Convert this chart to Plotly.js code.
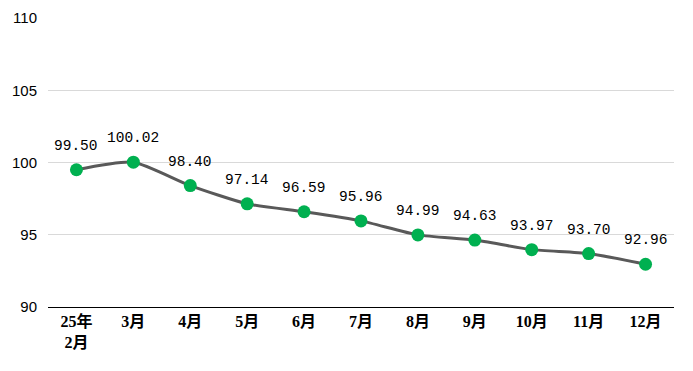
<!DOCTYPE html>
<html><head><meta charset="utf-8">
<script src="https://cdn.plot.ly/plotly-3.0.1.min.js"></script>
<style>body{margin:0;padding:0;background:#fff}#c{width:693px;height:371px}</style>
</head><body><div id="c"></div>
<script>
var categories = ["25年<br>2月","3月","4月","5月","6月","7月","8月","9月","10月","11月","12月"];
var values = [99.50,100.02,98.40,97.14,96.59,95.96,94.99,94.63,93.97,93.70,92.96];
var yTicks = [90,95,100,105,110];

var annotations = categories.map(function(c,i){
  return {x:c, y:values[i], xref:'x', yref:'y', text:values[i].toFixed(2), showarrow:false,
    yanchor:'middle', xanchor:'center', yshift:24,
    font:{family:'Liberation Mono, monospace', size:14.5, color:'#000'}};
});

var trace = {
  x: categories, y: values, type:'scatter', mode:'lines+markers',
  line:{color:'#595959', width:3, shape:'spline', smoothing:0.6},
  marker:{color:'#00b050', size:13},
  hoverinfo:'none'
};

var layout = {
  width:693, height:371,
  margin:{l:48, r:19, t:18, b:64},
  paper_bgcolor:'#fff', plot_bgcolor:'#fff',
  showlegend:false,
  xaxis:{type:'category', range:[-0.5,10.5], showgrid:false, showline:true, linecolor:'#000', linewidth:1,
    ticks:'', tickfont:{family:'Liberation Serif, Noto Sans CJK SC, serif', size:16, color:'#000', weight:'bold'},
    zeroline:false},
  yaxis:{range:[90,110], tickvals:yTicks, showgrid:true, gridcolor:'#d9d9d9', gridwidth:1,
    showline:false, zeroline:false, ticks:'', ticklabelstandoff:10,
    tickfont:{family:'Liberation Sans, sans-serif', size:15, color:'#000'}},
  annotations: annotations
};
Plotly.newPlot('c',[trace],layout,{displayModeBar:false, staticPlot:true});
</script></body></html>
